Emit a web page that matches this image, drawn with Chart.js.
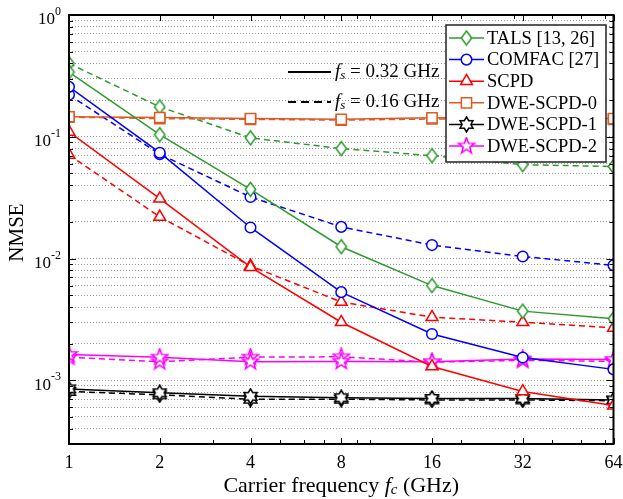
<!DOCTYPE html>
<html>
<head>
<meta charset="utf-8">
<script src="https://cdn.jsdelivr.net/npm/chart.js@4/dist/chart.umd.min.js"></script>
<style>
  body { margin: 0; background: #fff; }
  canvas { display: block; }
</style>
</head>
<body>
<canvas id="nmse" width="623" height="499"></canvas>
<script>
// --- DATA ---
const freqs = [1, 2, 4, 8, 16, 32, 64]; //            carrier frequency (GHz)
const xTickLabels = ["1", "2", "4", "8", "16", "32", "64"];
const xMinorTicks = [3, 5, 6, 7, 9, 10, 20, 30, 40, 50, 60];
const yDecades = [0, -1, -2, -3]; //                   exponents of the labelled ticks

// solid = fs 0.32 GHz, dashed = fs 0.16 GHz
const talsSolid = [0.34, 0.104, 0.037, 0.0125, 0.006, 0.0037, 0.0032];
const talsDashed = [0.4, 0.176, 0.098, 0.08, 0.07, 0.059, 0.057];
const comfacSolid = [0.257, 0.074, 0.018, 0.0053, 0.0024, 0.00154, 0.00123];
const comfacDashed = [0.221, 0.072, 0.032, 0.0182, 0.0129, 0.0104, 0.0088];
const scpdSolid = [0.11, 0.031, 0.0085, 0.003, 0.0013, 0.00081, 0.00062];
const scpdDashed = [0.071, 0.022, 0.0087, 0.0044, 0.0033, 0.003, 0.0027];
const dwe0Solid = [0.146, 0.144, 0.141, 0.139, 0.143, 0.142, 0.141];
const dwe0Dashed = [0.145, 0.141, 0.139, 0.137, 0.14, 0.14, 0.139];
const dwe1Solid = [0.00085, 0.00079, 0.00074, 0.00072, 0.00071, 0.00071, 0.00069];
const dwe1Dashed = [0.00081, 0.00076, 0.0007, 0.0007, 0.00069, 0.00069, 0.00068];
const dwe2Solid = [0.00163, 0.00155, 0.00142, 0.00143, 0.00142, 0.0015, 0.00148];
const dwe2Dashed = [0.00155, 0.00142, 0.00155, 0.00156, 0.00141, 0.00146, 0.00143];

const seriesNames = ["TALS [13, 26]", "COMFAC [27]", "SCPD", "DWE-SCPD-0", "DWE-SCPD-1", "DWE-SCPD-2"];
const solidSeries = [talsSolid, comfacSolid, scpdSolid, dwe0Solid, dwe1Solid, dwe2Solid];
const dashedSeries = [talsDashed, comfacDashed, scpdDashed, dwe0Dashed, dwe1Dashed, dwe2Dashed];

// --- STYLE ---
const FONT = "'Liberation Serif', 'Times New Roman', serif";
const colors = ["#2e9a2e", "#0000ff", "#ff0000", "#dd5a24", "#000000", "#ff00ff"];

function markerCanvas(w, h, color, pathFn) {
  const c = document.createElement("canvas");
  c.width = w;
  c.height = h;
  const g = c.getContext("2d");
  g.beginPath();
  pathFn(g, w / 2, h / 2);
  g.closePath();
  g.fillStyle = "#fff";
  g.fill();
  g.lineWidth = 1.5;
  g.strokeStyle = color;
  g.stroke();
  return c;
}

function starPath(n, rOut, rIn) {
  return (g, cx, cy) => {
    for (let i = 0; i < 2 * n; i++) {
      const r = i % 2 === 0 ? rOut : rIn;
      const a = -Math.PI / 2 + (i * Math.PI) / n;
      const px = cx + r * Math.cos(a);
      const py = cy + r * Math.sin(a);
      if (i === 0) g.moveTo(px, py);
      else g.lineTo(px, py);
    }
  };
}

function diamondPath(g, cx, cy) {
  g.moveTo(cx, cy - 7);
  g.lineTo(cx + 5.2, cy);
  g.lineTo(cx, cy + 7);
  g.lineTo(cx - 5.2, cy);
}

function getMarker(index) {
  const col = colors[index];
  switch (index) {
    case 0:
      return { style: markerCanvas(13, 17, col, diamondPath), radius: 6 };
    case 1:
      return { style: "circle", radius: 5.3 };
    case 2:
      return { style: "triangle", radius: 6.8 };
    case 3:
      return { style: "rect", radius: 7.2 };
    case 4:
      return { style: markerCanvas(17, 17, col, starPath(6, 7.5, 4.4)), radius: 7 };
    case 5:
      return { style: markerCanvas(19, 19, col, starPath(5, 8.5, 3.4)), radius: 8 };
  }
}

const markers = seriesNames.map((n, i) => getMarker(i));

function makeDataset(values, index, dashed) {
  return {
    label: seriesNames[index] + (dashed ? " (fs = 0.16 GHz)" : ""),
    data: freqs.map((f, k) => ({ x: f, y: values[k] })),
    borderColor: colors[index],
    backgroundColor: "#fff",
    borderWidth: 1.5,
    borderDash: dashed ? [6, 4] : [],
    pointStyle: markers[index].style,
    pointRadius: markers[index].radius,
    pointBorderWidth: 1.5,
    pointBorderColor: colors[index],
    pointBackgroundColor: "#fff",
    tension: 0,
  };
}

const datasets = [];
solidSeries.forEach((vals, i) => datasets.push(makeDataset(vals, i, false)));
dashedSeries.forEach((vals, i) => datasets.push(makeDataset(vals, i, true)));

const yGridVals = [];
for (let e = -4; e <= 0; e++) {
  for (let m = 1; m <= 9; m++) {
    const v = m * Math.pow(10, e);
    if (v >= 3e-4 - 1e-12 && v <= 1 + 1e-12) yGridVals.push(v);
  }
}

// draw text made of pieces: [text, italic, sizeFactor, yShift]
function drawPieces(ctx, pieces, size, x, y, align) {
  const fontOf = (p) => (p[1] ? "italic " : "") + Math.round(size * (p[2] || 1)) + "px " + FONT;
  let total = 0;
  pieces.forEach((p) => {
    ctx.font = fontOf(p);
    total += ctx.measureText(p[0]).width;
  });
  let cx = align === "center" ? x - total / 2 : align === "right" ? x - total : x;
  ctx.textAlign = "left";
  ctx.textBaseline = "middle";
  pieces.forEach((p) => {
    ctx.font = fontOf(p);
    ctx.fillText(p[0], cx, y + (p[3] || 0));
    cx += ctx.measureText(p[0]).width;
  });
}

const decorPlugin = {
  id: "decor",
  afterDraw(chart) {
    const ctx = chart.ctx;
    const a = chart.chartArea;
    const xs = chart.scales.x;
    const ys = chart.scales.y;
    ctx.save();
    ctx.fillStyle = "#000";
    ctx.strokeStyle = "#000";

    // inward ticks on all sides
    ctx.lineWidth = 1;
    ctx.beginPath();
    freqs.concat(xMinorTicks).forEach((v) => {
      const px = Math.round(xs.getPixelForValue(v)) + 0.5;
      const len = freqs.includes(v) ? 6 : 4;
      ctx.moveTo(px, a.bottom);
      ctx.lineTo(px, a.bottom - len);
      ctx.moveTo(px, a.top);
      ctx.lineTo(px, a.top + len);
    });
    yGridVals.forEach((v) => {
      const py = Math.round(ys.getPixelForValue(v)) + 0.5;
      const isMajor = Math.abs(Math.log10(v) - Math.round(Math.log10(v))) < 1e-9;
      const len = isMajor ? 7 : 4;
      ctx.moveTo(a.left, py);
      ctx.lineTo(a.left + len, py);
      ctx.moveTo(a.right, py);
      ctx.lineTo(a.right - len, py);
    });
    ctx.stroke();

    // box
    ctx.lineWidth = 2;
    ctx.strokeRect(a.left, a.top, a.right - a.left, a.bottom - a.top);

    // x tick labels
    ctx.font = "18px " + FONT;
    ctx.textAlign = "center";
    ctx.textBaseline = "middle";
    freqs.forEach((f, i) => {
      ctx.fillText(xTickLabels[i], xs.getPixelForValue(f), a.bottom + 19);
    });

    // y tick labels 10^e
    yDecades.forEach((e) => {
      const py = ys.getPixelForValue(Math.pow(10, e));
      ctx.font = "12px " + FONT;
      const expW = ctx.measureText(String(e)).width;
      ctx.textAlign = "left";
      ctx.fillText(String(e), 61 - expW, py - 3);
      ctx.font = "17px " + FONT;
      ctx.textAlign = "right";
      ctx.fillText("10", 61 - expW, py + 5);
    });

    // axis titles
    drawPieces(ctx, [["Carrier frequency "], ["f", true], ["c", true, 0.72, 4], [" (GHz)"]], 21.5, (a.left + a.right) / 2, 486, "center");
    ctx.save();
    ctx.translate(17, (a.top + a.bottom) / 2 + 3);
    ctx.rotate(-Math.PI / 2);
    ctx.font = "21px " + FONT;
    ctx.textAlign = "center";
    ctx.textBaseline = "middle";
    ctx.fillText("NMSE", 0, 0);
    ctx.restore();

    // line style legend
    ctx.lineWidth = 2;
    [[72, []], [102, [8, 5]]].forEach(([ly, dash]) => {
      ctx.setLineDash(dash);
      ctx.beginPath();
      ctx.moveTo(288, ly);
      ctx.lineTo(331, ly);
      ctx.stroke();
    });
    ctx.setLineDash([]);
    drawPieces(ctx, [["f", true], ["s", true, 0.72, 4], [" = 0.32 GHz"]], 18.5, 335, 72, "left");
    drawPieces(ctx, [["f", true], ["s", true, 0.72, 4], [" = 0.16 GHz"]], 18.5, 335, 102, "left");

    // series legend
    const lx = 446, ly = 25, lw = 160, lh = 137;
    ctx.fillStyle = "#fff";
    ctx.fillRect(lx, ly, lw, lh);
    ctx.lineWidth = 1.5;
    ctx.strokeStyle = "#222";
    ctx.strokeRect(lx, ly, lw, lh);
    seriesNames.forEach((name, i) => {
      const ey = 38 + i * 21.6;
      ctx.strokeStyle = colors[i];
      ctx.lineWidth = 1.5;
      ctx.beginPath();
      ctx.moveTo(449, ey);
      ctx.lineTo(484, ey);
      ctx.stroke();
      ctx.fillStyle = "#fff";
      Chart.helpers.drawPoint(ctx, {
        pointStyle: markers[i].style,
        radius: markers[i].radius,
        borderWidth: 1.5,
        rotation: 0,
      }, 466.5, ey);
      ctx.fillStyle = "#000";
      ctx.font = "18.5px " + FONT;
      ctx.textAlign = "left";
      ctx.textBaseline = "middle";
      ctx.fillText(name, 487, ey + 1);
    });
    ctx.restore();
  },
};

new Chart(document.getElementById("nmse"), {
  type: "line",
  data: { datasets: datasets },
  options: {
    responsive: false,
    animation: false,
    devicePixelRatio: 1,
    layout: { padding: { top: 15, right: 7, left: 0, bottom: 0 } },
    plugins: { legend: { display: false }, tooltip: { enabled: false } },
    scales: {
      x: {
        type: "logarithmic",
        min: 1,
        max: 64,
        afterBuildTicks: (s) => {
          s.ticks = freqs.map((v) => ({ value: v }));
        },
        afterFit: (s) => {
          s.height = 55;
        },
        ticks: { display: false },
        grid: { display: false },
        border: { display: false },
      },
      y: {
        type: "logarithmic",
        min: 3e-4,
        max: 1,
        afterBuildTicks: (s) => {
          s.ticks = yGridVals.map((v) => ({ value: v }));
        },
        afterFit: (s) => {
          s.width = 69;
        },
        ticks: { display: false },
        grid: { color: "#999999", lineWidth: 1, drawTicks: false },
        border: { display: false, dash: [1, 2] },
      },
    },
  },
  plugins: [decorPlugin],
});
</script>
</body>
</html>
